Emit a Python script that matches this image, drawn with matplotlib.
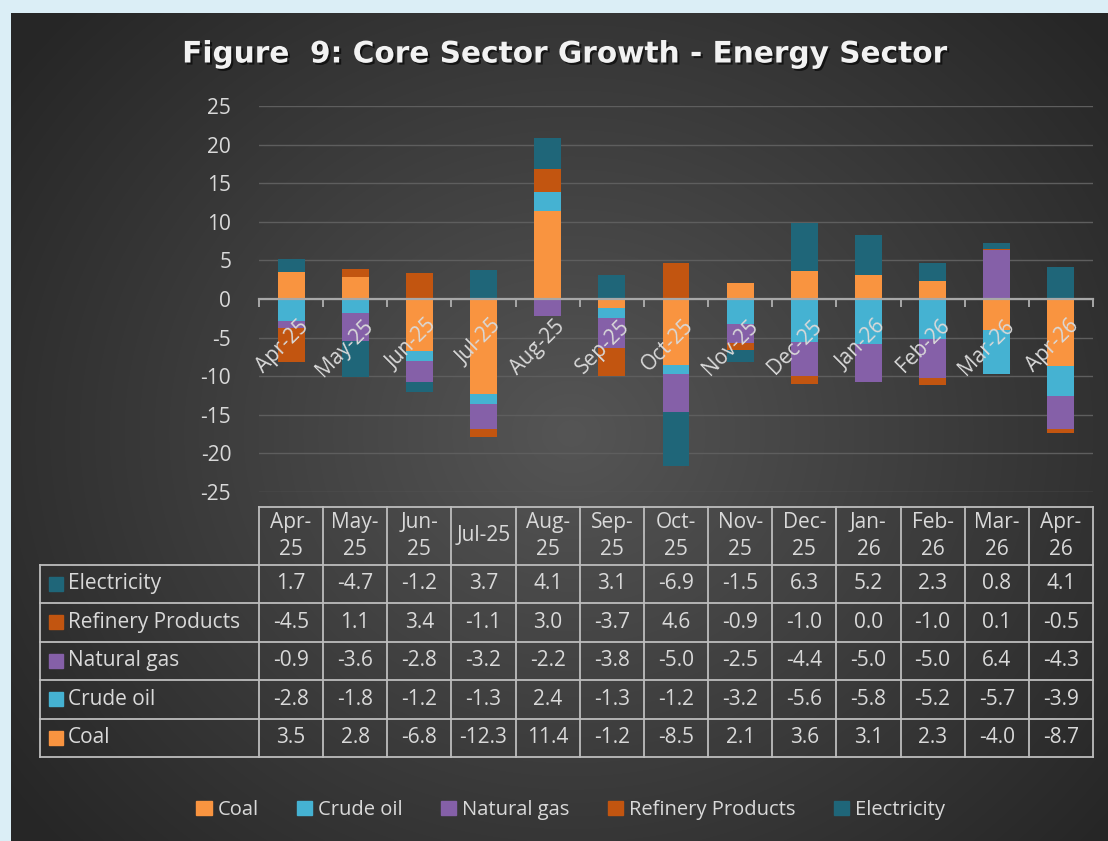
import numpy as np
import matplotlib.pyplot as plt
import matplotlib.patheffects as pe
from matplotlib.patches import Rectangle, Patch
from matplotlib.transforms import ScaledTranslation

# --- Data ---
MONTHS = ['Apr-25', 'May-25', 'Jun-25', 'Jul-25', 'Aug-25', 'Sep-25', 'Oct-25',
          'Nov-25', 'Dec-25', 'Jan-26', 'Feb-26', 'Mar-26', 'Apr-26']
TABLE_HEADERS = ['Apr-\n25', 'May-\n25', 'Jun-\n25', 'Jul-25', 'Aug-\n25', 'Sep-\n25', 'Oct-\n25',
                 'Nov-\n25', 'Dec-\n25', 'Jan-\n26', 'Feb-\n26', 'Mar-\n26', 'Apr-\n26']
COAL = [3.5, 2.8, -6.8, -12.3, 11.4, -1.2, -8.5, 2.1, 3.6, 3.1, 2.3, -4.0, -8.7]
CRUDE_OIL = [-2.8, -1.8, -1.2, -1.3, 2.4, -1.3, -1.2, -3.2, -5.6, -5.8, -5.2, -5.7, -3.9]
NATURAL_GAS = [-0.9, -3.6, -2.8, -3.2, -2.2, -3.8, -5.0, -2.5, -4.4, -5.0, -5.0, 6.4, -4.3]
REFINERY = [-4.5, 1.1, 3.4, -1.1, 3.0, -3.7, 4.6, -0.9, -1.0, 0.0, -1.0, 0.1, -0.5]
ELECTRICITY = [1.7, -4.7, -1.2, 3.7, 4.1, 3.1, -6.9, -1.5, 6.3, 5.2, 2.3, 0.8, 4.1]

SERIES = ['Coal', 'Crude oil', 'Natural gas', 'Refinery Products', 'Electricity']
VALUES = [COAL, CRUDE_OIL, NATURAL_GAS, REFINERY, ELECTRICITY]
COLORS = ['#F99440', '#45B2D2', '#8560A8', '#C25510', '#1F6679']

# --- Style ---
plt.rcParams['font.family'] = ['Open Sans', 'DejaVu Sans']
plt.rcParams['axes.unicode_minus'] = False
TEXT = '#D9D9D9'
LINE = '#BDBDBD'
FS = 15

W, H = 1108, 841
fig = plt.figure(figsize=(W / 100, H / 100), dpi=100)
fig.patch.set_facecolor('#DBEEF6')

# dark panel with radial gradient
bg = fig.add_axes([11 / W, 0, 1 - 11 / W, 1 - 13 / H], zorder=-10)
yy, xx = np.mgrid[0:828, 0:1097]
r = np.hypot((xx - 560) / 700, (yy - 420) / 620)
r = np.clip(r, 0, 1)
c0, c1 = np.array([0x55, 0x55, 0x55]) / 255, np.array([0x26, 0x26, 0x26]) / 255
img = c0[None, None, :] * (1 - r[..., None]) + c1[None, None, :] * r[..., None]
bg.imshow(img, aspect='auto', extent=[0, 1, 0, 1], origin='upper')
bg.axis('off')

# --- Chart ---
px = lambda x0, y0, x1, y1: [x0 / W, 1 - y1 / H, (x1 - x0) / W, (y1 - y0) / H]
ax = fig.add_axes(px(259, 106, 1093, 492))
ax.set_facecolor('none')
ax.set_axisbelow(False)
x = np.arange(len(MONTHS))
pos_base = np.zeros(len(MONTHS))
neg_base = np.zeros(len(MONTHS))
for name, vals, col in zip(SERIES, VALUES, COLORS):
    v = np.array(vals)
    bottoms = np.where(v >= 0, pos_base, neg_base)
    ax.bar(x, v, 0.42, bottom=bottoms, color=col, label=name, zorder=1)
    pos_base += np.where(v >= 0, v, 0)
    neg_base += np.where(v < 0, v, 0)

ax.set_xlim(-0.5, len(MONTHS) - 0.5)
ax.set_ylim(-25, 25)
yticks = np.arange(-25, 26, 5)
ax.set_yticks(yticks)
for yv in yticks:
    ax.axhline(yv, color='#5E5E5E', lw=1, zorder=0.5)
ax.tick_params(axis='y', length=0, pad=20, labelsize=FS, labelcolor=TEXT)
for s in ['left', 'right', 'top']:
    ax.spines[s].set_visible(False)
ax.spines['bottom'].set_position(('data', 0))
ax.spines['bottom'].set_color('#A8A8A8')
ax.spines['bottom'].set_linewidth(1.6)
ax.set_xticks(np.arange(-0.5, len(MONTHS), 1))
ax.set_xticklabels([])
ax.set_xticks(x, minor=True)
ax.set_xticklabels(MONTHS, minor=True, rotation=45, ha='right', rotation_mode='anchor')
ax.tick_params(axis='x', which='major', length=6, width=1.4, color='#A8A8A8')
ax.tick_params(axis='x', which='minor', length=0, pad=12, labelsize=FS, labelcolor=TEXT)
shift = ScaledTranslation(7 / 100, 0, fig.dpi_scale_trans)
for lbl in ax.get_xticklabels(minor=True):
    lbl.set_transform(lbl.get_transform() + shift)

# --- Title ---
fig.text(0.51, 1 - 54 / H, 'Figure  9: Core Sector Growth - Energy Sector', ha='center', va='center',
         fontsize=21.3, fontweight='bold', color='#F2F2F2', family='DejaVu Sans',
         path_effects=[pe.withSimplePatchShadow(offset=(1.5, -1.5), shadow_rgbFace='black', alpha=0.6)])

# --- Data table ---
colw = (1093 - 259) / 13
label_w = (259 - 40) / colw
x0 = -0.5 - label_w
tab = fig.add_axes(px(40, 507, 1093, 757))
tab.set_xlim(x0, len(MONTHS) - 0.5)
tab.set_ylim(0, 6.5)
tab.axis('off')
kw = dict(color=LINE, lw=1.3, clip_on=False, solid_capstyle='projecting')
for k in range(6):
    tab.plot([x0, len(MONTHS) - 0.5], [k, k], **kw)
tab.plot([-0.5, len(MONTHS) - 0.5], [6.5, 6.5], **kw)
tab.plot([x0, x0], [0, 5], **kw)
for k in range(len(MONTHS) + 1):
    tab.plot([k - 0.5, k - 0.5], [0, 6.5], **kw)
for i, hdr in enumerate(TABLE_HEADERS):
    tab.text(i, 5.75, hdr, ha='center', va='center', fontsize=FS, color=TEXT, linespacing=1.4)
rows = list(zip(SERIES, VALUES, COLORS))[::-1]
for j, (name, vals, col) in enumerate(rows):
    yc = 4.5 - j
    tab.add_patch(Rectangle((x0 + 0.14, yc - 0.18), 0.22, 0.36, color=col, clip_on=False))
    tab.text(x0 + 0.43, yc, name, ha='left', va='center', fontsize=FS, color=TEXT)
    for i, v in enumerate(vals):
        tab.text(i, yc, f'{v:.1f}', ha='center', va='center', fontsize=FS, color=TEXT)

# --- Legend ---
handles = [Patch(color=c, label=n) for n, c in zip(SERIES, COLORS)]
fig.legend(handles=handles, loc='center', bbox_to_anchor=(0.515, 1 - 810 / H), ncol=5,
           frameon=False, fontsize=14.5, handlelength=0.75, handleheight=0.75,
           handletextpad=0.3, columnspacing=1.9, labelcolor=TEXT)

fig.savefig('out.png', dpi=100, facecolor=fig.get_facecolor())
